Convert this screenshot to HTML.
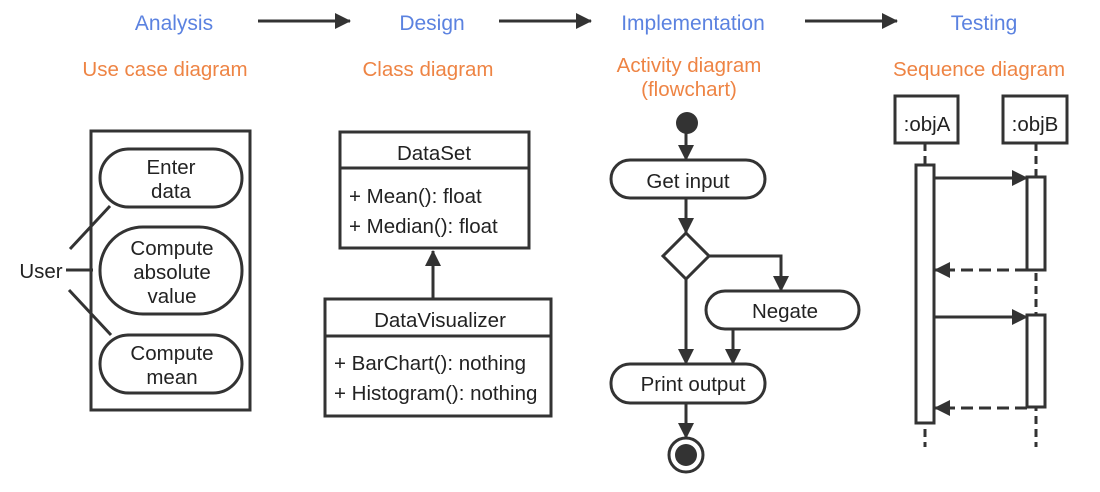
<!DOCTYPE html>
<html><head><meta charset="utf-8"><style>
html,body{margin:0;padding:0;background:#fff;}
svg{display:block;}
text{font-family:"Liberation Sans",Arial,sans-serif;}
</style></head><body>
<svg width="1100" height="492" viewBox="0 0 1100 492" xmlns="http://www.w3.org/2000/svg">
<defs>
<marker id="h" markerWidth="16" markerHeight="16" refX="15" refY="8" orient="auto" markerUnits="userSpaceOnUse" viewBox="0 0 16 16"><path d="M0,0 L16,8 L0,16 z" fill="#333"/></marker>
</defs>
<g font-size="21" fill="#5b82e0" text-anchor="middle">
<text x="174" y="30">Analysis</text>
<text x="432" y="30">Design</text>
<text x="693" y="30">Implementation</text>
<text x="984" y="30">Testing</text>
</g>
<g font-size="20.5" fill="#ee8444" text-anchor="middle">
<text x="165" y="76">Use case diagram</text>
<text x="428" y="76">Class diagram</text>
<text x="689" y="72">Activity diagram</text>
<text x="689" y="96">(flowchart)</text>
<text x="979" y="76">Sequence diagram</text>
</g>
<g stroke="#333" stroke-width="3" fill="none">
<line x1="258" y1="21" x2="350" y2="21" marker-end="url(#h)"/>
<line x1="499" y1="21" x2="591" y2="21" marker-end="url(#h)"/>
<line x1="805" y1="21" x2="897" y2="21" marker-end="url(#h)"/>
<rect x="91" y="131" width="159" height="279"/>
<rect x="100" y="149" width="142" height="58" rx="29"/>
<rect x="100" y="227" width="142" height="87" rx="43"/>
<rect x="100" y="335" width="142" height="58" rx="29"/>
<line x1="70" y1="249" x2="110" y2="206"/>
<line x1="66" y1="270" x2="93" y2="270"/>
<line x1="69" y1="290" x2="111" y2="335"/>
<rect x="340" y="132" width="189" height="116"/>
<line x1="340" y1="168" x2="529" y2="168"/>
<rect x="325" y="299" width="226" height="117"/>
<line x1="325" y1="336" x2="551" y2="336"/>
<line x1="433" y1="299" x2="433" y2="251" marker-end="url(#h)"/>
<line x1="686" y1="130" x2="686" y2="160" marker-end="url(#h)"/>
<rect x="611" y="160" width="154" height="38" rx="19"/>
<line x1="686" y1="198" x2="686" y2="233" marker-end="url(#h)"/>
<path d="M686,233 L709,256 L686,279 L663,256 Z"/>
<path d="M709,256 L781,256 L781,291" marker-end="url(#h)"/>
<rect x="706" y="291" width="153" height="38" rx="19"/>
<line x1="686" y1="279" x2="686" y2="364" marker-end="url(#h)"/>
<line x1="733" y1="329" x2="733" y2="364" marker-end="url(#h)"/>
<rect x="611" y="364" width="154" height="39" rx="19"/>
<line x1="686" y1="403" x2="686" y2="438" marker-end="url(#h)"/>
<circle cx="686" cy="455" r="17"/>
<rect x="895" y="96" width="63" height="47"/>
<rect x="1003" y="96" width="64" height="47"/>
<line x1="925" y1="143" x2="925" y2="447" stroke-dasharray="8,5"/>
<line x1="1036" y1="143" x2="1036" y2="447" stroke-dasharray="8,5"/>
<rect x="916" y="165" width="18" height="258" fill="#fff"/>
<rect x="1027" y="177" width="18" height="93" fill="#fff"/>
<rect x="1027" y="315" width="18" height="92" fill="#fff"/>
<line x1="934" y1="178" x2="1027" y2="178" marker-end="url(#h)"/>
<line x1="1027" y1="270" x2="935" y2="270" stroke-dasharray="12,6" marker-end="url(#h)"/>
<line x1="934" y1="317" x2="1027" y2="317" marker-end="url(#h)"/>
<line x1="1027" y1="408" x2="935" y2="408" stroke-dasharray="12,6" marker-end="url(#h)"/>
</g>
<circle cx="687" cy="123" r="11" fill="#333"/>
<circle cx="686" cy="455" r="11" fill="#333"/>
<g font-size="20.5" fill="#222" text-anchor="middle">
<text x="41" y="278">User</text>
<text x="171" y="174">Enter</text>
<text x="171" y="198">data</text>
<text x="172" y="255">Compute</text>
<text x="172" y="279">absolute</text>
<text x="172" y="303">value</text>
<text x="172" y="360">Compute</text>
<text x="172" y="384">mean</text>
<text x="434" y="160">DataSet</text>
<text x="440" y="327">DataVisualizer</text>
<text x="688" y="188">Get input</text>
<text x="785" y="318">Negate</text>
<text x="693" y="391">Print output</text>
<text x="927" y="131">:objA</text>
<text x="1035" y="131">:objB</text>
</g>
<g font-size="20.5" fill="#222">
<text x="349" y="203">+ Mean(): float</text>
<text x="349" y="233">+ Median(): float</text>
<text x="334" y="370">+ BarChart(): nothing</text>
<text x="334" y="400">+ Histogram(): nothing</text>
</g>
</svg>
</body></html>
